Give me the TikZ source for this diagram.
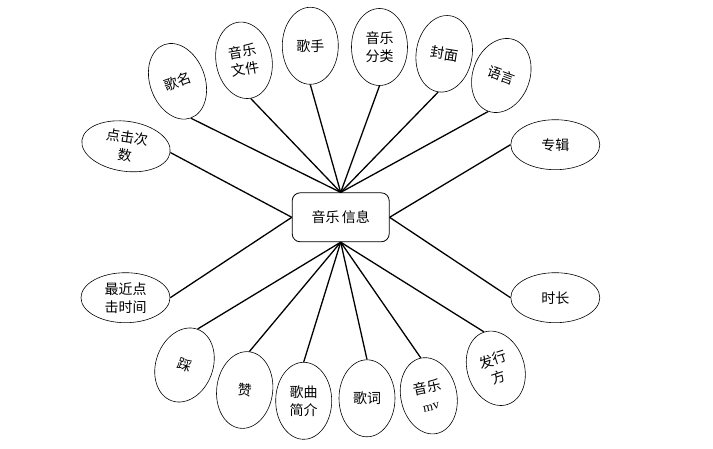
\documentclass[tikz,border=0pt]{standalone}
\usepackage{fontspec}
\setmainfont{Liberation Serif}
\newfontfamily\cjk{Noto Sans CJK SC}
\usetikzlibrary{shapes.geometric}
\begin{document}
\begin{tikzpicture}[x=1pt,y=1pt,
  attr/.style={ellipse,draw=black,line width=0.6pt,inner sep=0pt,align=center,
    font=\cjk\fontsize{14}{18}\selectfont,minimum width=56pt,minimum height=77pt},
  wide/.style={attr,minimum width=89pt,minimum height=50pt},
  ent/.style={draw=black,line width=0.8pt,rounded corners=8pt,minimum width=97pt,
    minimum height=49pt,inner sep=0pt,font=\cjk\fontsize{14}{18}\selectfont},
  conn/.style={line width=1.3pt}]
\useasboundingbox (0,0) rectangle (713,-449);
\node[ent] (info) at (340.7,-217.3) {音乐\,信息};
% top
\node[attr,rotate=20,minimum width=55pt,minimum height=78pt] (gm) at (177.5,-81.3) {歌名};
\node[attr,rotate=10] (wj) at (244,-60.3) {音乐\\文件};
\node[attr] (gs) at (310.3,-45.8) {歌手};
\node[attr] (fl) at (379.5,-47) {音乐\\分类};
\node[attr,rotate=-9] (fm) at (444.2,-53.8) {封面};
\node[attr,rotate=-20,minimum width=57pt,minimum height=76pt] (yy) at (501.3,-75.5) {语言};
% sides
\node[wide,rotate=-8] (dj) at (126,-146.3) {点击次\\数};
\node[wide] (zj) at (555.3,-144.7) {专辑};
\node[wide] (zt) at (125.5,-297.7) {最近点\\击时间};
\node[wide] (sc) at (555.3,-297.7) {时长};
% bottom
\node[attr,rotate=-20,minimum width=57pt,minimum height=76pt] (cai) at (184.5,-365) {踩};
\node[attr,rotate=-7] (zan) at (244.7,-390) {赞};
\node[attr] (jj) at (303.7,-400.8) {歌曲\\简介};
\node[attr] (gc) at (367,-398.3) {歌词};
\node[attr,rotate=12] (mv) at (428.8,-395.8) {音乐\\{\rmfamily\fontsize{13}{16}\selectfont mv}};
\node[attr,rotate=18,minimum width=57pt,minimum height=76pt] (fx) at (495.8,-368.3) {发行\\方};
% connectors
\foreach \n in {gm,wj,gs,fl,fm,yy}
  \draw[conn] (info.north) -- (\n.south);
\draw[conn] (info.west) -- (dj.east);
\draw[conn] (info.west) -- (zt.east);
\draw[conn] (info.east) -- (zj.west);
\draw[conn] (info.east) -- (sc.west);
\foreach \n in {cai,zan,jj,gc,mv,fx}
  \draw[conn] (info.south) -- (\n.north);
\end{tikzpicture}
\end{document}
